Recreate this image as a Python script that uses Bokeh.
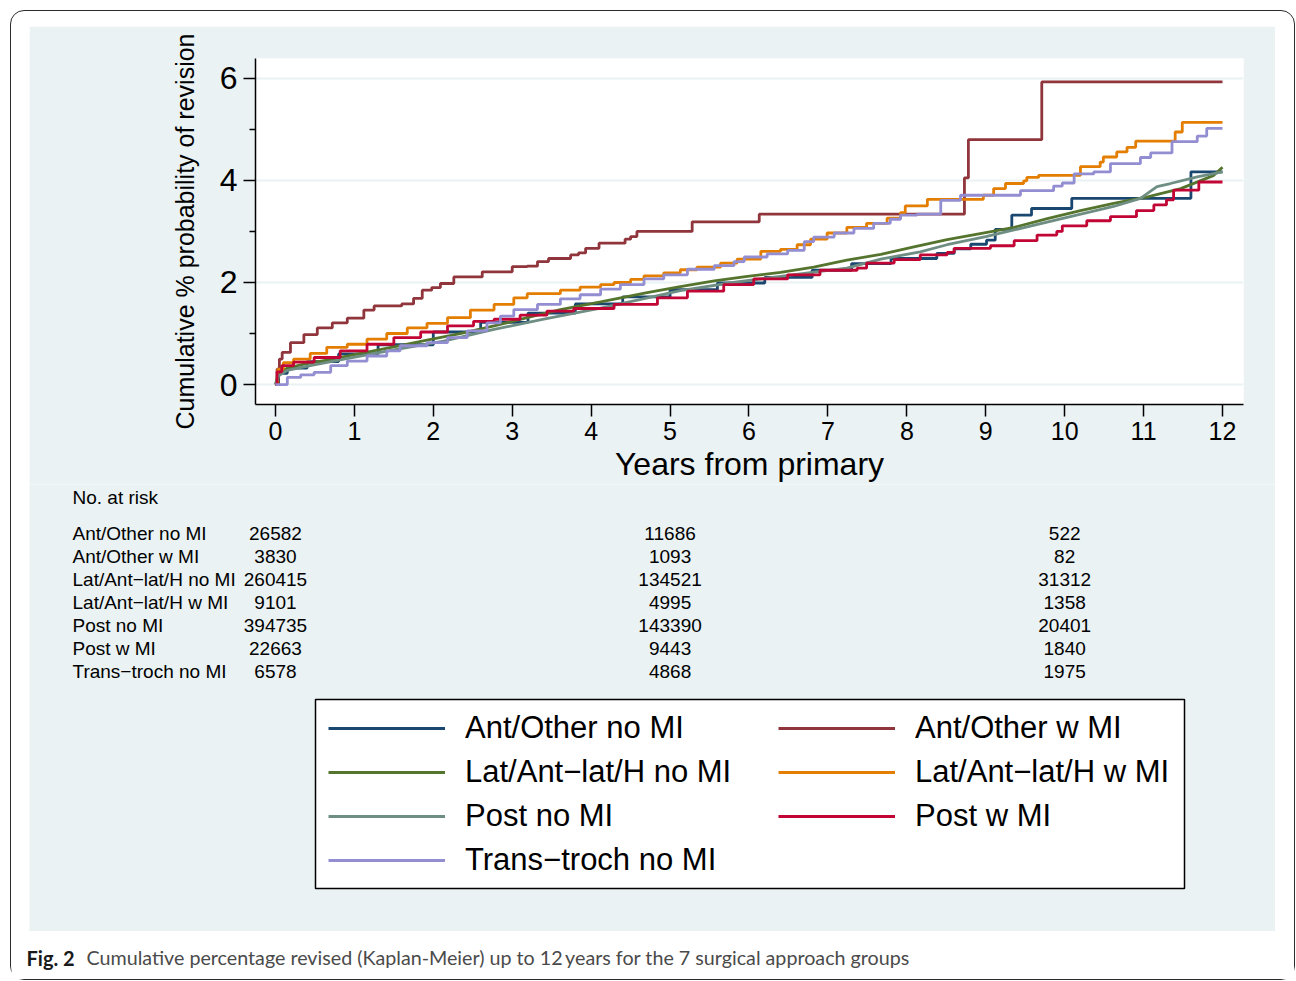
from bokeh.plotting import figure
from bokeh.layouts import column
from bokeh.models import Range1d, FixedTicker, ColumnDataSource, Legend, LegendItem
from bokeh.core.properties import value
from bokeh.embed import file_html
from bokeh.resources import INLINE

M = "\u2212"
# ---------------- data ----------------
groups = ["Ant/Other no MI", "Ant/Other w MI", "Lat/Ant" + M + "lat/H no MI", "Lat/Ant" + M + "lat/H w MI",
          "Post no MI", "Post w MI", "Trans" + M + "troch no MI"]
colors = ["#1a476f", "#90353b", "#55752f", "#e37e00", "#6e8e84", "#c10534", "#938dd2"]

ant_no_t = [0, 0.04, 0.15, 0.4, 0.8, 1.3, 2.0, 2.6, 3.2, 3.8, 4.4, 5.0, 5.6, 6.2, 6.8, 7.3, 7.8, 8.38, 8.6,
            8.81, 9.01, 9.12, 9.33, 9.58, 10.09, 11.6, 12.0]
ant_no_v = [0, 0.22, 0.32, 0.45, 0.6, 0.78, 1.03, 1.22, 1.4, 1.58, 1.72, 1.86, 1.99, 2.1, 2.24, 2.37, 2.47, 2.57,
            2.66, 2.75, 2.83, 3.04, 3.32, 3.45, 3.65, 4.17, 4.17]

ant_w_t = [0, 0.02, 0.05, 0.085, 0.19, 0.36, 0.53, 0.72, 0.91, 1.12, 1.25, 1.6, 1.75, 1.86, 1.98, 2.09, 2.26,
           2.62, 3.0, 3.19, 3.32, 3.46, 3.74, 3.84, 3.93, 4.1, 4.43, 4.5, 4.58, 5.28, 6.13, 8.73, 8.78, 9.71, 12.0]
ant_w_v = [0, 0.3, 0.5, 0.63, 0.82, 0.98, 1.11, 1.21, 1.30, 1.46, 1.54, 1.58, 1.69, 1.85, 1.9, 1.98, 2.11,
           2.21, 2.31, 2.32, 2.41, 2.47, 2.54, 2.58, 2.67, 2.77, 2.85, 2.9, 3.0, 3.19, 3.34, 4.05, 4.80, 5.93, 5.93]

lat_no_t = [0, 0.04, 0.15, 0.36, 0.65, 1.08, 1.5, 1.92, 2.34, 2.77, 3.19, 3.61, 4.12, 4.71, 5.13, 5.56, 5.98,
            6.4, 6.82, 7.24, 7.67, 8.09, 8.51, 8.93, 9.36, 9.78, 10.2, 10.62, 11.05, 11.47, 11.89, 12.0]
lat_no_v = [0, 0.24, 0.32, 0.4, 0.48, 0.61, 0.74, 0.87, 1.0, 1.15, 1.31, 1.47, 1.62, 1.8, 1.92, 2.03, 2.12,
            2.2, 2.3, 2.44, 2.55, 2.7, 2.84, 2.96, 3.08, 3.25, 3.41, 3.55, 3.68, 3.84, 4.1, 4.26]

lat_w_t = [0, 0.03, 0.1, 0.23, 0.44, 0.65, 0.91, 1.16, 1.41, 1.67, 1.92, 2.18, 2.47, 2.77, 3.02, 3.19, 3.61,
           3.86, 4.12, 4.29, 4.5, 4.67, 4.92, 5.13, 5.34, 5.64, 5.85, 6.15, 6.4, 6.61, 6.78, 6.99, 7.24, 7.49,
           7.75, 7.92, 7.98, 8.26, 8.97, 9.1, 9.25, 9.48, 9.52, 9.67, 10.2, 10.45, 10.49, 10.66, 10.79, 10.9,
           11.4, 11.49, 12.0]
lat_w_v = [0, 0.3, 0.43, 0.5, 0.61, 0.73, 0.79, 0.89, 1.0, 1.11, 1.2, 1.31, 1.46, 1.57, 1.7, 1.78, 1.85,
           1.91, 1.96, 2.0, 2.06, 2.13, 2.19, 2.25, 2.3, 2.38, 2.46, 2.61, 2.65, 2.74, 2.85, 2.97, 3.08, 3.16,
           3.26, 3.37, 3.5, 3.63, 3.71, 3.84, 3.94, 3.99, 4.06, 4.1, 4.27, 4.36, 4.46, 4.56, 4.65, 4.77,
           4.95, 5.14, 5.14]

post_no_t = [0, 0.04, 0.15, 0.44, 0.87, 1.5, 2.13, 2.77, 3.4, 4.12, 4.6, 5.13, 5.8, 6.4, 6.8, 7.24, 7.67, 8.17,
             8.51, 9.0, 9.36, 9.99, 10.62, 10.96, 11.17, 11.34, 11.68, 12.0]
post_no_v = [0, 0.17, 0.28, 0.37, 0.5, 0.68, 0.85, 1.08, 1.28, 1.5, 1.66, 1.84, 2.0, 2.12, 2.2, 2.28, 2.46, 2.6,
             2.74, 2.9, 3.03, 3.26, 3.49, 3.65, 3.88, 3.94, 4.07, 4.17]

post_w_t = [0, 0.02, 0.08, 0.23, 0.49, 0.82, 1.16, 1.5, 1.84, 2.18, 2.51, 2.77, 3.1, 3.44, 3.78, 4.29, 4.84,
            5.22, 5.68, 6.06, 6.49, 6.9, 7.37, 7.49, 7.84, 8.17, 8.51, 8.6, 9.06, 9.36, 9.65, 9.9, 9.97, 10.28,
            10.58, 10.91, 11.13, 11.29, 11.38, 11.7, 12.0]
post_w_v = [0, 0.25, 0.37, 0.44, 0.53, 0.66, 0.79, 0.92, 1.03, 1.15, 1.24, 1.28, 1.36, 1.44, 1.49, 1.57, 1.7,
            1.83, 1.96, 2.07, 2.15, 2.24, 2.28, 2.38, 2.45, 2.54, 2.59, 2.67, 2.72, 2.82, 2.93, 3.0, 3.11, 3.21,
            3.29, 3.41, 3.52, 3.62, 3.81, 3.97, 3.97]

trans_t = [0, 0.15, 0.32, 0.49, 0.7, 0.91, 1.16, 1.41, 1.58, 1.92, 2.18, 2.43, 2.68, 2.85, 3.02, 3.32, 3.61,
           3.86, 4.12, 4.37, 4.67, 4.92, 5.22, 5.56, 5.81, 5.94, 6.23, 6.49, 6.7, 6.82, 7.08, 7.33, 7.58, 7.79,
           7.92, 8.13, 8.43, 8.68, 9.06, 9.44, 9.86, 9.97, 10.12, 10.37, 10.58, 10.96, 11.09, 11.36, 11.68,
           11.8, 12.0]
trans_v = [0, 0.14, 0.19, 0.24, 0.37, 0.46, 0.56, 0.66, 0.76, 0.82, 0.92, 1.05, 1.21, 1.34, 1.47, 1.57, 1.68,
           1.76, 1.87, 1.96, 2.07, 2.15, 2.26, 2.33, 2.41, 2.5, 2.56, 2.63, 2.8, 2.89, 2.97, 3.06, 3.16, 3.24,
           3.32, 3.34, 3.61, 3.71, 3.71, 3.8, 3.89, 3.95, 4.13, 4.17, 4.33, 4.45, 4.54, 4.76, 4.87,
           5.02, 5.02]

# curve style: step for sparse-event groups, line for the very large groups
series = [(ant_no_t, ant_no_v, "step"), (ant_w_t, ant_w_v, "step"), (lat_no_t, lat_no_v, "line"),
          (lat_w_t, lat_w_v, "step"), (post_no_t, post_no_v, "line"), (post_w_t, post_w_v, "step"),
          (trans_t, trans_v, "step")]

x_ticks = list(range(0, 13))
y_ticks = [0, 2, 4, 6]
y_minor = [1, 3, 5]

risk_years = [0, 5, 10]
risk_ant_no = [26582, 11686, 522]
risk_ant_w = [3830, 1093, 82]
risk_lat_no = [260415, 134521, 31312]
risk_lat_w = [9101, 4995, 1358]
risk_post_no = [394735, 143390, 20401]
risk_post_w = [22663, 9443, 1840]
risk_trans = [6578, 4868, 1975]
risk_rows = [risk_ant_no, risk_ant_w, risk_lat_no, risk_lat_w, risk_post_no, risk_post_w, risk_trans]

caption_bold = "Fig. 2"
caption_text = "Cumulative percentage revised (Kaplan-Meier) up to 12\u2009years for the 7 surgical approach groups"

# ---------------- layout (page pixels) ----------------
X0, X1 = -0.253, 12.266
Y0, Y1 = -0.391, 6.39
FL, FR, FT, FB = 255, 1243, 58, 405      # plot frame on the page
PL, PR, PT, PB = 29, 1275, 26, 931       # light panel on the page
AB = 484                                  # split between plot figure and table figure
WL, WT, WR, WB = 11, 11, 1294, 979       # inner edge of rounded outer frame


def dx(px):
    return X0 + (px - FL) * (X1 - X0) / (FR - FL)


FONT = "Liberation Sans"
PANEL = "#eaf2f3"
LW = 2.8
NAN = float("nan")

# ---------- figure A: the KM plot ----------
pa = figure(width=PR - PL, height=AB - PT, x_range=Range1d(X0, X1), y_range=Range1d(Y0, Y1),
            output_backend="svg", toolbar_location=None,
            min_border_left=FL - PL, min_border_right=PR - FR, min_border_top=FT - PT,
            min_border_bottom=AB - FB, margin=(PT - WT, WR - PR, 0, PL - WL))
pa.frame_align = False
pa.border_fill_color = PANEL
pa.background_fill_color = "white"
pa.outline_line_color = None

pa.xgrid.visible = False
pa.ygrid.ticker = FixedTicker(ticks=y_ticks)
pa.ygrid.grid_line_color = PANEL
pa.ygrid.grid_line_width = 2

for ax in (pa.xaxis, pa.yaxis):
    ax.axis_line_color = "black"
    ax.axis_line_width = 1.5
    ax.major_tick_line_color = "black"
    ax.major_tick_line_width = 1.5
    ax.major_tick_in = 0
    ax.major_tick_out = 12
    ax.major_label_text_font = FONT
    ax.major_label_text_color = "black"
    ax.axis_label_text_font = FONT
    ax.axis_label_text_font_style = "normal"
    ax.axis_label_text_color = "black"

pa.xaxis.ticker = FixedTicker(ticks=x_ticks)
pa.xaxis.minor_tick_out = 0
pa.xaxis.major_label_text_font_size = "25px"
pa.xaxis.major_label_standoff = 5
pa.xaxis.axis_label = "Years from primary"
pa.xaxis.axis_label_text_font_size = "32px"
pa.xaxis.axis_label_standoff = 3

pa.yaxis.ticker = FixedTicker(ticks=y_ticks, minor_ticks=y_minor)
pa.yaxis.minor_tick_in = 0
pa.yaxis.minor_tick_out = 6
pa.yaxis.minor_tick_line_color = "black"
pa.yaxis.minor_tick_line_width = 1.5
pa.yaxis.major_label_text_font_size = "32px"
pa.yaxis.major_label_standoff = 6
pa.yaxis.axis_label = "Cumulative % probability of revision"
pa.yaxis.axis_label_text_font_size = "25px"
pa.yaxis.axis_label_standoff = 18

for (t, v, kind), c in zip(series, colors):
    src = ColumnDataSource(dict(t=t, v=v))
    if kind == "step":
        pa.step("t", "v", source=src, mode="after", line_color=c, line_width=LW)
    else:
        pa.line("t", "v", source=src, line_color=c, line_width=LW)

# ---------- figure B: number at risk + legend ----------
pb = figure(width=PR - PL, height=PB - AB, x_range=Range1d(dx(PL), dx(PR)), y_range=Range1d(PB, AB),
            output_backend="svg", toolbar_location=None, x_axis_type=None, y_axis_type=None,
            min_border=0, margin=(0, WR - PR, 0, PL - WL))
pb.frame_align = False
pb.border_fill_color = PANEL
pb.background_fill_color = PANEL
pb.outline_line_color = None

pb.text(x=[dx(72)], y=[497], text=["No. at risk"], text_font=value(FONT), text_font_size="19px",
        text_baseline="middle", text_color="black")
row_y = [533 + 23 * i for i in range(len(groups))]
pb.text(x=[dx(72)] * len(groups), y=row_y, text=groups, text_font=value(FONT), text_font_size="19px",
        text_baseline="middle", text_color="black")
nx, ny, nt = [], [], []
for yy, row in zip(row_y, risk_rows):
    for yr, n in zip(risk_years, row):
        nx.append(yr)
        ny.append(yy)
        nt.append(str(n))
pb.text(x=nx, y=ny, text=nt, text_font=value(FONT), text_font_size="19px", text_align="center",
        text_baseline="middle", text_color="black")

pb.quad(left=[dx(315)], right=[dx(1184)], top=[699], bottom=[888], fill_color="white",
        line_color="black", line_width=1.5)

key_renderers = [pb.line(x=[NAN], y=[NAN], line_color=c, line_width=LW) for c in colors]
col_items = [[0, 2, 4, 6], [1, 3, 5]]
col_x = [328, 778]
for idxs, cx in zip(col_items, col_x):
    items = [LegendItem(label=groups[i], renderers=[key_renderers[i]]) for i in idxs]
    bottom_py = 706 + 44 * len(idxs)
    leg = Legend(items=items, location=(cx - PL, PB - bottom_py), padding=0, margin=0, spacing=0,
                 glyph_width=117, glyph_height=44, label_height=44, label_standoff=20,
                 label_text_font=FONT, label_text_font_size="31px", label_text_color="black",
                 border_line_alpha=0, background_fill_alpha=0)
    pb.add_layout(leg, "center")

# ---------- figure C: caption ----------
pc = figure(width=WR - WL, height=WB - PB, x_range=Range1d(WL, WR), y_range=Range1d(WB, PB),
            output_backend="svg", toolbar_location=None, x_axis_type=None, y_axis_type=None,
            min_border=0, margin=0)
pc.frame_align = False
pc.border_fill_color = "white"
pc.background_fill_color = "white"
pc.outline_line_color = None
pc.text(x=[26], y=[957], text=[caption_bold], text_font=value("Lato"), text_font_style="bold",
        text_font_size="20px", text_baseline="middle", text_color="#1a1a1a")
pc.text(x=[86], y=[957], text=[caption_text], text_font=value("Lato"), text_font_size="19.7px",
        text_baseline="middle", text_color="#4a4a4a")

layout = column(pa, pb, pc, spacing=0, margin=(WT, 0, 0, WL),
                styles={"outline": "1.5px solid #2b2b2b", "border-radius": "13px",
                        "background-color": "white"})

open("out.html", "w").write(file_html(layout, INLINE))
